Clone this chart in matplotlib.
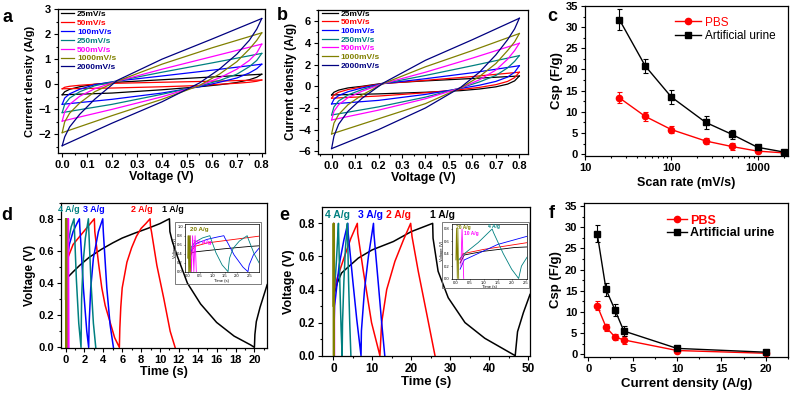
import matplotlib
matplotlib.use('Agg')
import matplotlib.pyplot as plt
from matplotlib.ticker import AutoMinorLocator
from matplotlib.patches import Rectangle

plt.rcParams['font.family'] = ['Liberation Sans', 'DejaVu Sans']
plt.rcParams['font.weight'] = 'bold'
plt.rcParams['axes.labelweight'] = 'bold'

# ---------------- data ----------------
scan_labels = ['25mV/s', '50mV/s', '100mV/s', '250mV/s', '500mV/s', '1000mV/s', '2000mV/s']
cv_colors = ['black', 'red', 'blue', '#008080', 'magenta', '#808000', '#000080']

V_UP = [0, 0.01, 0.03, 0.07, 0.13, 0.22, 0.4, 0.6, 0.8]
V_LO = [0, 0.2, 0.4, 0.55, 0.63, 0.7, 0.75, 0.78, 0.8]

a_upper = [
    [-0.42, -0.30, -0.20, -0.10, 0.00, 0.08, 0.18, 0.29, 0.40],
    [-0.18, -0.12, -0.08, -0.04, 0.00, 0.04, 0.08, 0.12, 0.17],
    [-0.80, -0.55, -0.38, -0.20, -0.02, 0.13, 0.33, 0.56, 0.80],
    [-1.13, -0.80, -0.55, -0.30, -0.06, 0.13, 0.48, 0.85, 1.23],
    [-1.47, -1.10, -0.80, -0.48, -0.18, 0.12, 0.60, 1.10, 1.60],
    [-1.93, -1.50, -1.15, -0.75, -0.30, 0.12, 0.80, 1.45, 2.05],
    [-2.45, -2.10, -1.70, -1.20, -0.60, 0.15, 1.00, 1.80, 2.62],
]
a_lower = [
    [-0.42, -0.35, -0.22, -0.10, -0.02, 0.07, 0.18, 0.28, 0.40],
    [-0.18, -0.15, -0.10, -0.05, 0.00, 0.04, 0.08, 0.12, 0.17],
    [-0.80, -0.60, -0.35, -0.10, 0.08, 0.25, 0.45, 0.62, 0.80],
    [-1.13, -0.80, -0.40, -0.07, 0.15, 0.40, 0.70, 0.95, 1.23],
    [-1.47, -1.00, -0.50, -0.05, 0.25, 0.60, 0.95, 1.25, 1.60],
    [-1.93, -1.25, -0.60, -0.05, 0.40, 0.90, 1.40, 1.75, 2.05],
    [-2.45, -1.55, -0.70, 0.05, 0.60, 1.20, 1.75, 2.20, 2.62],
]
b_upper = [
    [-0.80, -0.55, -0.35, -0.15, 0.00, 0.28, 0.50, 0.72, 0.95],
    [-1.10, -0.80, -0.55, -0.30, -0.05, 0.25, 0.55, 0.90, 1.30],
    [-1.63, -1.20, -0.85, -0.50, -0.15, 0.25, 0.70, 1.25, 1.90],
    [-2.65, -1.90, -1.35, -0.80, -0.30, 0.25, 1.00, 1.90, 2.83],
    [-3.11, -2.30, -1.70, -1.05, -0.45, 0.25, 1.30, 2.60, 3.97],
    [-4.40, -3.40, -2.60, -1.70, -0.80, 0.25, 1.80, 3.30, 4.87],
    [-5.75, -4.60, -3.50, -2.30, -1.10, 0.30, 2.40, 4.30, 6.28],
]
b_lower = [
    [-0.80, -0.70, -0.55, -0.40, -0.25, -0.05, 0.20, 0.50, 0.95],
    [-1.10, -0.90, -0.60, -0.30, -0.10, 0.15, 0.45, 0.80, 1.30],
    [-1.63, -1.30, -0.75, -0.20, 0.10, 0.45, 0.85, 1.30, 1.90],
    [-2.65, -1.90, -1.00, -0.15, 0.40, 1.00, 1.70, 2.30, 2.83],
    [-3.11, -2.20, -1.15, -0.15, 0.60, 1.50, 2.50, 3.30, 3.97],
    [-4.40, -3.00, -1.60, -0.15, 0.90, 2.10, 3.30, 4.10, 4.87],
    [-5.75, -4.00, -2.00, -0.10, 1.30, 2.90, 4.30, 5.30, 6.28],
]

scan_rate = [25, 50, 100, 250, 500, 1000, 2000]
csp_pbs_c = [13.3, 8.9, 5.8, 3.1, 1.8, 0.7, 0.3]
err_pbs_c = [1.3, 1.1, 0.8, 0.7, 0.85, 0.3, 0.2]
csp_urine_c = [31.8, 20.8, 13.5, 7.5, 4.7, 1.6, 0.5]
err_urine_c = [2.4, 1.7, 1.6, 1.5, 1.1, 0.6, 0.3]

current_density = [1, 2, 3, 4, 10, 20]
csp_pbs_f = [11.5, 6.4, 4.1, 3.4, 0.9, 0.25]
err_pbs_f = [1.1, 0.8, 0.7, 0.9, 0.3, 0.2]
csp_urine_f = [28.5, 15.3, 10.5, 5.5, 1.4, 0.5]
err_urine_f = [2.1, 1.6, 1.4, 1.1, 0.4, 0.3]

gcd_labels = ['1 A/g', '2 A/g', '3 A/g', '4 A/g', '10 A/g', '20 A/g']
gcd_colors = ['black', 'red', 'blue', '#008080', 'magenta', '#808000']

# panel d (PBS) charge/discharge
d_t_1 = [0.12, 0.16, 0.3, 0.8, 1.5, 2.5, 3.8, 5.0, 6.0, 7.3, 8.7, 10.0, 11.0, 11.05, 11.3, 11.85,
         12.9, 14.3, 16.0, 17.85, 19.6, 20.0, 20.05, 20.2, 20.6, 21.35]
d_v_1 = [0.33, 0.42, 0.44, 0.47, 0.51, 0.56, 0.61, 0.65, 0.68, 0.71, 0.74, 0.77, 0.80, 0.72, 0.66, 0.565,
         0.40, 0.27, 0.155, 0.07, 0.015, 0.0, 0.08, 0.16, 0.25, 0.39]
d_t_2 = [0.12, 0.2, 0.3, 0.8, 1.5, 2.2, 3.05, 3.1, 3.3, 3.5, 3.84, 4.2, 4.7, 5.2, 5.7, 5.75, 5.85, 6.0,
         6.5, 7.0, 7.5, 8.0, 8.5, 8.95, 9.0, 9.1, 9.67, 10.4, 11.08, 11.6]
d_v_2 = [0.38, 0.5, 0.565, 0.64, 0.69, 0.74, 0.80, 0.72, 0.62, 0.52, 0.37, 0.26, 0.16, 0.06, 0.0, 0.12, 0.25, 0.37,
         0.53, 0.62, 0.69, 0.74, 0.77, 0.80, 0.75, 0.72, 0.51, 0.305, 0.1, 0.0]
d_t_3 = [0.12, 0.2, 0.4, 0.8, 1.2, 1.47, 1.52, 1.61, 1.89, 2.25, 2.45, 2.5, 2.67, 2.95, 3.48, 3.94,
         4.0, 4.37, 4.72, 5.07]
d_v_3 = [0.42, 0.55, 0.64, 0.72, 0.77, 0.80, 0.74, 0.66, 0.37, 0.10, 0.0, 0.15, 0.37, 0.555, 0.72, 0.80,
         0.72, 0.37, 0.14, 0.0]
d_t_4 = [0.08, 0.15, 0.3, 0.6, 0.9, 0.95, 1.15, 1.4, 1.64, 1.7, 1.85, 2.1, 2.42, 2.47, 2.7, 2.95, 3.2]
d_v_4 = [0.4, 0.55, 0.66, 0.75, 0.80, 0.72, 0.42, 0.15, 0.0, 0.3, 0.52, 0.68, 0.80, 0.72, 0.40, 0.15, 0.0]
d_t_10 = [0.06, 0.1, 0.15, 0.2, 0.25, 0.3, 0.35]
d_v_10 = [0.4, 0.8, 0.0, 0.8, 0.0, 0.8, 0.0]
d_t_20 = [0.0, 0.02, 0.04, 0.06, 0.08, 0.1, 0.12]
d_v_20 = [0.3, 0.8, 0.0, 0.8, 0.0, 0.8, 0.0]

# panel e (artificial urine) charge/discharge
e_t_1 = [0.15, 0.3, 1.0, 2.1, 4.0, 6.4, 10.0, 15.4, 20.0, 25.5, 25.6, 26.9, 29.5, 33.8, 38.9, 44.1,
         46.7, 47.3, 48.8, 50.5]
e_v_1 = [0.25, 0.38, 0.44, 0.50, 0.54, 0.59, 0.64, 0.69, 0.75, 0.80, 0.71, 0.51, 0.35, 0.20, 0.105, 0.035,
         0.0, 0.145, 0.26, 0.37]
e_t_2 = [0.15, 0.25, 1.0, 3.0, 4.5, 6.15, 6.25, 7.7, 9.8, 11.95, 12.4, 13.7, 15.8, 18.0, 19.85, 20.2,
         21.8, 24.0, 26.1]
e_v_2 = [0.3, 0.4, 0.47, 0.61, 0.71, 0.80, 0.74, 0.51, 0.2, 0.0, 0.2, 0.4, 0.57, 0.70, 0.80, 0.72,
         0.51, 0.25, 0.0]
e_t_3 = [0.15, 0.3, 1.5, 2.7, 3.7, 3.8, 5.0, 6.0, 7.1, 7.2, 8.0, 9.0, 10.3, 10.4, 11.6, 12.4, 13.2]
e_v_3 = [0.15, 0.3, 0.55, 0.7, 0.80, 0.74, 0.45, 0.22, 0.0, 0.15, 0.4, 0.6, 0.80, 0.74, 0.42, 0.2, 0.0]
e_t_4 = [0.1, 0.3, 0.8, 1.3, 1.35, 1.7, 2.0, 2.25, 2.35, 2.7, 3.1, 3.6, 3.65, 3.9, 4.2, 4.5]
e_v_4 = [0.3, 0.4, 0.58, 0.80, 0.74, 0.4, 0.15, 0.0, 0.2, 0.45, 0.65, 0.80, 0.74, 0.45, 0.2, 0.0]
e_t_10 = [0.18, 0.22, 0.28]
e_v_10 = [0.2, 0.8, 0.0]
e_t_20 = [0.0, 0.02, 0.05, 0.07, 0.1]
e_v_20 = [0.3, 0.8, 0.0, 0.8, 0.0]

d_series = [(d_t_1, d_v_1), (d_t_2, d_v_2), (d_t_3, d_v_3), (d_t_4, d_v_4), (d_t_10, d_v_10), (d_t_20, d_v_20)]
e_series = [(e_t_1, e_v_1), (e_t_2, e_v_2), (e_t_3, e_v_3), (e_t_4, e_v_4), (e_t_10, e_v_10), (e_t_20, e_v_20)]

# ---------------- figure ----------------
W, H = 792, 394
fig = plt.figure(figsize=(7.92, 3.94), dpi=100)


def rect(l, t, r, b):
    return [l / W, 1 - b / H, (r - l) / W, (b - t) / H]


def style(ax, size=8, xminor=2, yminor=2):
    ax.tick_params(which='both', direction='out', labelsize=size, width=0.8, pad=2)
    ax.tick_params(which='major', length=3)
    ax.tick_params(which='minor', length=1.6)
    if xminor:
        ax.xaxis.set_minor_locator(AutoMinorLocator(xminor))
    if yminor:
        ax.yaxis.set_minor_locator(AutoMinorLocator(yminor))
    for s in ax.spines.values():
        s.set_linewidth(0.9)


def letter(x, y, s):
    fig.text(x / W, 1 - y / H, s, fontsize=13, fontweight='bold', ha='center', va='center')


# ---- a ----
ax = fig.add_axes(rect(57.7, 9, 265, 153))
for i in range(7):
    ax.plot(V_UP, a_upper[i], color=cv_colors[i], lw=0.9, label=scan_labels[i])
    ax.plot(V_LO, a_lower[i], color=cv_colors[i], lw=0.9)
ax.set_xlim(-0.018, 0.813)
ax.set_ylim(-2.74, 3.0)
ax.set_xticks([0, 0.1, 0.2, 0.3, 0.4, 0.5, 0.6, 0.7, 0.8])
ax.set_yticks([-2, -1, 0, 1, 2, 3])
style(ax)
ax.set_xlabel('Voltage (V)', fontsize=9, labelpad=1)
ax.set_ylabel('Current density (A/g)', fontsize=8, labelpad=2)
ax.legend(loc='upper left', bbox_to_anchor=(0.015, 0.99), frameon=False, fontsize=6,
          handlelength=1.6, handletextpad=0.35, labelspacing=0.12, borderpad=0, borderaxespad=0,
          labelcolor='linecolor')
letter(7.5, 17, 'a')

# ---- b ----
ax = fig.add_axes(rect(318, 9.7, 528, 154))
for i in range(7):
    ax.plot(V_UP, b_upper[i], color=cv_colors[i], lw=0.9, label=scan_labels[i])
    ax.plot(V_LO, b_lower[i], color=cv_colors[i], lw=0.9)
ax.set_xlim(-0.058, 0.837)
ax.set_ylim(-6.25, 7.07)
ax.set_xticks([0, 0.1, 0.2, 0.3, 0.4, 0.5, 0.6, 0.7, 0.8])
ax.set_yticks([-6, -4, -2, 0, 2, 4, 6])
style(ax)
ax.set_xlabel('Voltage (V)', fontsize=9, labelpad=1)
ax.set_ylabel('Current density (A/g)', fontsize=8.5, labelpad=1)
ax.legend(loc='upper left', bbox_to_anchor=(0.02, 1.0), frameon=False, fontsize=6,
          handlelength=1.9, handletextpad=0.3, labelspacing=0.1, borderpad=0, borderaxespad=0,
          labelcolor='linecolor')
letter(282, 16, 'b')

# ---- c ----
ax = fig.add_axes(rect(585, 6, 788, 156))
ax.set_xscale('log')
ax.errorbar(scan_rate, csp_pbs_c, yerr=err_pbs_c, fmt='none', ecolor='red', elinewidth=0.8,
            capsize=1.8, capthick=0.8)
ax.errorbar(scan_rate, csp_urine_c, yerr=err_urine_c, fmt='none', ecolor='black', elinewidth=0.8,
            capsize=1.8, capthick=0.8)
ax.plot(scan_rate, csp_pbs_c, '-o', color='red', ms=4.5, lw=1.0, label='PBS')
ax.plot(scan_rate, csp_urine_c, '-s', color='black', ms=4.5, lw=1.0, label='Artificial urine')
ax.set_xlim(10, 2250)
ax.set_ylim(-0.45, 35)
ax.set_xticks([10, 100, 1000])
ax.set_xticklabels(['10', '100', '1000'])
ax.set_yticks([0, 5, 10, 15, 20, 25, 30, 35])
style(ax, xminor=0)
ax.set_xlabel('Scan rate (mV/s)', fontsize=9, labelpad=3)
ax.set_ylabel('Csp (F/g)', fontsize=9.5, labelpad=2)
leg = ax.legend(loc='upper left', bbox_to_anchor=(0.445, 0.93), frameon=False,
                handlelength=2.2, handletextpad=0.3, labelspacing=0.15, borderpad=0, borderaxespad=0,
                prop={'weight': 'normal', 'size': 8.5})
for t, c in zip(leg.get_texts(), ['red', 'black']):
    t.set_color(c)
letter(552, 16.5, 'c')


# ---- GCD helper ----
def draw_gcd(ax, series, lw=1.1):
    for (t, v), col in zip(series, gcd_colors):
        ax.plot(t, v, color=col, lw=lw)


# ---- d ----
ax = fig.add_axes(rect(61, 202.7, 266.7, 348))
draw_gcd(ax, d_series)
ax.set_xlim(-0.48, 21.3)
ax.set_ylim(-0.004, 0.9)
ax.set_xticks(list(range(0, 21, 2)))
ax.set_yticks([0.0, 0.2, 0.4, 0.6, 0.8])
style(ax, size=8)
ax.set_xlabel('Time (s)', fontsize=9, labelpad=1)
ax.set_ylabel('Voltage (V)', fontsize=8.5, labelpad=2)
for lab, col, x in zip(gcd_labels[:4], gcd_colors[:4], [11.4, 8.1, 2.95, 0.35]):
    ax.text(x, 0.857, lab, color=col, fontsize=6.5, fontweight='bold', ha='center', va='center')
letter(7, 215, 'd')

# inset d
fig.patches.append(Rectangle((175 / W, 1 - 284 / H), (261 - 175) / W, (284 - 222) / H,
                             transform=fig.transFigure, fill=False, edgecolor='#666666', lw=0.6))
axi = fig.add_axes(rect(185, 224, 259, 272))
draw_gcd(axi, d_series, lw=0.6)
axi.set_xlim(-0.11, 2.9)
axi.set_ylim(-0.007, 1.06)
axi.set_xticks([0, 0.5, 1.0, 1.5, 2.0, 2.5])
axi.set_yticks([0, 0.2, 0.4, 0.6, 0.8, 1.0])
axi.tick_params(labelsize=3, length=1, width=0.4, pad=0.5)
for lab in axi.get_xticklabels() + axi.get_yticklabels():
    lab.set_fontweight('normal')
for s in axi.spines.values():
    s.set_linewidth(0.5)
axi.set_xlabel('Time (s)', fontsize=3, fontweight='normal', labelpad=0.5)
axi.set_ylabel('Voltage (V)', fontsize=3, fontweight='normal', labelpad=0.5)
axi.text(0.08, 0.93, '20 A/g', color='#808000', fontsize=4.5, fontweight='bold', ha='left', va='center')
axi.text(0.22, 0.64, '10 A/g', color='magenta', fontsize=4.5, fontweight='bold', ha='left', va='center')

# ---- e ----
ax = fig.add_axes(rect(321.7, 207.3, 530, 356))
draw_gcd(ax, e_series)
ax.set_xlim(-3.0, 50.5)
ax.set_ylim(-0.002, 0.897)
ax.set_xticks([0, 10, 20, 30, 40, 50])
ax.set_yticks([0.0, 0.2, 0.4, 0.6, 0.8])
style(ax, size=8.5)
ax.set_xlabel('Time (s)', fontsize=9.5, labelpad=1)
ax.set_ylabel('Voltage (V)', fontsize=9, labelpad=2)
for lab, col, x in zip(gcd_labels[:4], gcd_colors[:4], [27.9, 16.8, 9.6, 1.0]):
    ax.text(x, 0.85, lab, color=col, fontsize=7.5, fontweight='bold', ha='center', va='center')
letter(284.5, 216, 'e')

# inset e
fig.patches.append(Rectangle((441.7 / W, 1 - 288 / H), (529 - 441.7) / W, (288 - 222) / H,
                             transform=fig.transFigure, fill=False, edgecolor='#666666', lw=0.6))
axi = fig.add_axes(rect(452, 224, 527, 278.5))
draw_gcd(axi, e_series, lw=0.6)
axi.set_xlim(-0.14, 2.55)
axi.set_ylim(0, 0.88)
axi.set_xticks([0, 0.5, 1.0, 1.5, 2.0, 2.5])
axi.set_yticks([0, 0.2, 0.4, 0.6, 0.8])
axi.tick_params(labelsize=3, length=1, width=0.4, pad=0.5)
for lab in axi.get_xticklabels() + axi.get_yticklabels():
    lab.set_fontweight('normal')
for s in axi.spines.values():
    s.set_linewidth(0.5)
axi.set_xlabel('Time (s)', fontsize=3, fontweight='normal', labelpad=0.5)
axi.set_ylabel('Voltage (V)', fontsize=3, fontweight='normal', labelpad=0.5)
axi.text(0.02, 0.83, '20 A/g', color='#808000', fontsize=3.5, ha='left', va='center')
axi.text(0.3, 0.72, '10 A/g', color='magenta', fontsize=3.5, ha='left', va='center')
axi.text(1.35, 0.84, '4 A/g', color='#008080', fontsize=3.5, ha='center', va='center')

# ---- f ----
ax = fig.add_axes(rect(584.3, 203, 788, 356.7))
ax.errorbar(current_density, csp_pbs_f, yerr=err_pbs_f, fmt='none', ecolor='red', elinewidth=0.8,
            capsize=1.8, capthick=0.8)
ax.errorbar(current_density, csp_urine_f, yerr=err_urine_f, fmt='none', ecolor='black', elinewidth=0.8,
            capsize=1.8, capthick=0.8)
ax.plot(current_density, csp_pbs_f, '-o', color='red', ms=4.5, lw=1.0, label='PBS')
ax.plot(current_density, csp_urine_f, '-s', color='black', ms=4.8, lw=1.0, label='Artificial urine')
ax.set_xlim(-0.45, 22.5)
ax.set_ylim(-0.56, 35.7)
ax.set_xticks([0, 5, 10, 15, 20])
ax.set_yticks([0, 5, 10, 15, 20, 25, 30, 35])
style(ax)
ax.set_xlabel('Current density (A/g)', fontsize=9.5, labelpad=3)
ax.set_ylabel('Csp (F/g)', fontsize=9.5, labelpad=2)
leg = ax.legend(loc='upper left', bbox_to_anchor=(0.405, 0.925), frameon=False, fontsize=9,
                handlelength=1.6, handletextpad=0.25, labelspacing=0.05, borderpad=0, borderaxespad=0)
for t, c in zip(leg.get_texts(), ['red', 'black']):
    t.set_color(c)
letter(551.5, 213, 'f')

fig.savefig('out.png', dpi=100)
